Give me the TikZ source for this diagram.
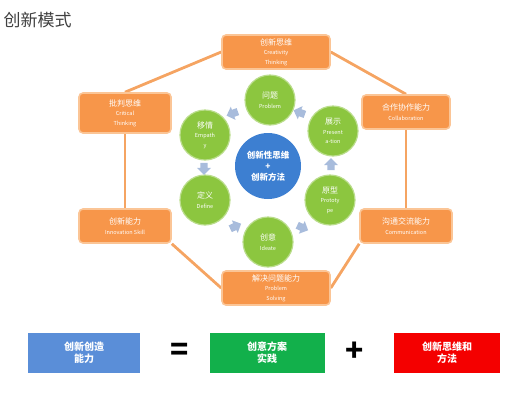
\documentclass[tikz,border=0pt]{standalone}
\usepackage{fontspec}
\setmainfont{Noto Sans CJK SC}
\usetikzlibrary{positioning,shapes.arrows,backgrounds}
\definecolor{boxorange}{HTML}{F7964A}
\definecolor{rimorange}{HTML}{FBC596}
\definecolor{lineorange}{HTML}{F5A462}
\definecolor{stepgreen}{HTML}{8CC63F}
\definecolor{hubblue}{HTML}{3D7FD1}
\definecolor{tipgrey}{HTML}{A8BCDC}
\definecolor{barblue}{HTML}{5A8ED8}
\definecolor{bargreen}{HTML}{12B04B}
\definecolor{barred}{HTML}{F40000}
\newcommand{\cnf}{\fontsize{8}{9.5}\selectfont}
\newcommand{\enf}{\fontsize{5.5}{7}\selectfont}

\begin{document}
\begin{tikzpicture}[x=1pt,y=-1pt,
  skillbox/.style={draw=rimorange,line width=1.6pt,fill=boxorange,rounded corners=4pt,
    text=white,align=center,minimum width=#1,minimum height=34pt,inner sep=1pt,font=\cnf},
  stepdot/.style={circle,fill=stepgreen,draw=stepgreen!60!white,line width=1.2pt,minimum size=50pt,
    text=white,align=center,inner sep=0pt,font=\cnf},
  tip/.style={single arrow,fill=tipgrey,minimum width=14pt,minimum height=12pt,
    single arrow head extend=1.5pt,inner sep=1.5pt,rotate=#1},
  bar/.style={fill=#1,minimum width=112pt,minimum height=40pt,text=white,align=center,
    font=\fontsize{10}{12}\selectfont\bfseries},
  hexline/.style={draw=lineorange,line width=2.8pt}]
  \useasboundingbox (0,0) rectangle (530,400);
  % title
  \node[anchor=west,font=\fontsize{17}{19}\selectfont,text=black!75] (title) at (0,20) {创新模式};
  % outer ring of skills
  \node[skillbox=108pt] (crt) at (276,52) {创新思维\\{\enf Creativity}\\{\enf Thinking}};
  \node[skillbox=92pt,minimum height=40pt] (cri) at (125,113) {批判思维\\{\enf Critical}\\{\enf Thinking}};
  \node[skillbox=88pt] (col) at (406,112) {合作协作能力\\{\enf Collaboration}};
  \node[skillbox=92pt] (inn) at (125,226) {创新能力\\{\enf Innovation Skill}};
  \node[skillbox=92pt] (com) at (406,226) {沟通交流能力\\{\enf Communication}};
  \node[skillbox=108pt] (sol) at (276,288) {解决问题能力\\{\enf Problem}\\{\enf Solving}};
  % ring lines, behind the boxes
  \begin{scope}[on background layer]
    \draw[hexline] (crt.west) -- (cri.north);
    \draw[hexline] (cri.south) -- (inn.north);
    \draw[hexline] (inn.south east) -- (sol.west);
    \draw[hexline] (sol.east) -- (com.south west);
    \draw[hexline] (com.north) -- (col.south);
    \draw[hexline] (col.north) -- (crt.east);
  \end{scope}
  % hub and steps
  \node[circle,fill=hubblue,minimum size=66pt,text=white,align=center,inner sep=0pt,
    font=\fontsize{8.5}{11}\selectfont\bfseries] (hub) at (268,166) {创新性思维\\+\\创新方法};
  \node[stepdot] (prb) at (270,100) {问题\\{\enf Problem}};
  \node[stepdot] (emp) at (205,135) {移情\\{\enf Empath}\\{\enf y}};
  \node[stepdot] (prs) at (333,131) {展示\\{\enf Present}\\{\enf a-tion}};
  \node[stepdot] (dfn) at (205,200) {定义\\{\enf Define}};
  \node[stepdot] (pty) at (330,200) {原型\\{\enf Prototy}\\{\enf pe}};
  \node[stepdot] (ide) at (268,242) {创意\\{\enf Ideate}};
  % cycle tips
  \node[tip=200] (t1) at (234,113) {};
  \node[tip=-90] (t2) at (204,167) {};
  \node[tip=25] (t3) at (234,227) {};
  \node[tip=-25] (t4) at (301,227) {};
  \node[tip=90] (t5) at (331,166) {};
  \node[tip=160] (t6) at (301,113) {};
  % formula row
  \node[bar=barblue] (ability) at (84,353) {创新创造\\能力};
  \node[font=\fontsize{30}{30}\selectfont\bfseries] (eq) at (180,352) {=};
  \node[bar=bargreen,minimum width=115pt] (practice) at (267,353) {创意方案\\实践};
  \node[font=\fontsize{30}{30}\selectfont\bfseries] (plus) at (355,352) {+};
  \node[bar=barred,minimum width=106pt] (method) at (447,353) {创新思维和\\方法};
\end{tikzpicture}
\end{document}
